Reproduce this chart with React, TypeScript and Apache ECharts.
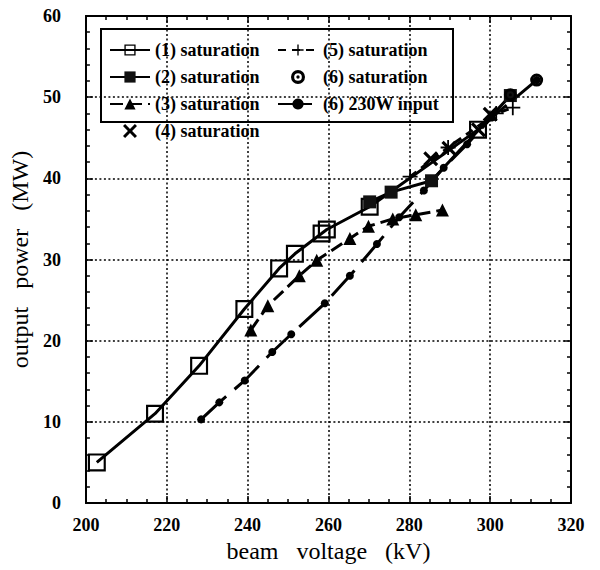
import React, { useEffect, useRef } from "react";
import * as echarts from "echarts";

const xTicks = [200, 220, 240, 260, 280, 300, 320];
const yTicks = [0, 10, 20, 30, 40, 50, 60];

const sat1: number[][] = [
  [202.7, 5.0], [217.1, 11.0], [228.0, 16.9], [239.2, 23.9], [247.8, 28.9],
  [251.7, 30.7], [258.3, 33.2], [259.6, 33.7], [270.2, 36.5], [297.0, 46.0],
];
const sat2: number[][] = [
  [270.2, 37.1], [275.5, 38.3], [285.5, 39.7], [305.0, 50.2],
];
const sat3: number[][] = [
  [240.8, 21.3], [245.0, 24.3], [252.8, 28.0], [257.1, 29.9], [265.3, 32.6],
  [269.9, 34.1], [275.9, 35.0], [281.6, 35.5], [288.2, 36.1],
];
const sat4: number[][] = [
  [285.3, 42.4], [289.8, 43.7], [297.1, 46.0], [300.0, 47.9],
];
const sat5: number[][] = [
  [280.2, 40.2], [289.6, 43.8], [301.5, 48.0], [305.6, 48.7],
];
const sat6: number[][] = [
  [305.0, 50.3], [311.5, 52.1],
];
const input230: number[][] = [
  [228.5, 10.3], [233.0, 12.4], [239.3, 15.1], [246.1, 18.6], [250.8, 20.8],
  [259.1, 24.6], [265.3, 28.0], [272.0, 31.9], [277.5, 35.2], [283.6, 38.5],
  [288.5, 41.3], [294.3, 44.2], [300.4, 47.5], [311.5, 52.1],
];

const names = [
  "(1) saturation",
  "(2) saturation",
  "(3) saturation",
  "(4) saturation",
  "(5) saturation",
  "(6) saturation",
  "(6) 230W input",
];

const xTitle = "beam\u00a0\u00a0 voltage\u00a0\u00a0 (kV)";
const yTitle = "output\u00a0\u00a0 power\u00a0\u00a0 (MW)";

const hollowSquare = "path://M0,0H20V20H0Z M2.4,2.4V17.6H17.6V2.4Z";
const boldX = "path://M0,3L3,0L10,7L17,0L20,3L13,10L20,17L17,20L10,13L3,20L0,17L7,10Z";
const plusSym = "path://M8.8,0H11.2V8.8H20V11.2H11.2V20H8.8V11.2H0V8.8H8.8Z";
const ringDot =
  "path://M0,10A10,10 0 1,1 20,10A10,10 0 1,1 0,10Z M4.5,10A5.5,5.5 0 1,0 15.5,10A5.5,5.5 0 1,0 4.5,10Z M7.6,10A2.4,2.4 0 1,1 12.4,10A2.4,2.4 0 1,1 7.6,10Z";

const serif = "'Liberation Serif', 'DejaVu Serif', serif";

export default function App() {
  const ref = useRef<HTMLDivElement>(null);
  useEffect(() => {
    if (!ref.current) return;
    const chart = echarts.init(ref.current, undefined, { renderer: "svg" });
    const axisCommon = {
      type: "value" as const,
      axisLine: { show: true, onZero: false, lineStyle: { color: "#000", width: 2 } },
      axisTick: { show: true, inside: true, length: 7, lineStyle: { color: "#000", width: 1.5 } },
      minorTick: { show: true, length: 4, lineStyle: { color: "#000", width: 1.5 } },
    };
    const labelStyle = { color: "#000", fontFamily: serif, fontWeight: "bold" as const, fontSize: 18 };
    const nameStyle = { color: "#000", fontFamily: serif, fontSize: 24 };
    const legendText = { color: "#000", fontFamily: serif, fontWeight: "bold" as const, fontSize: 18 };

    chart.setOption({
      animation: false,
      backgroundColor: "#fff",
      grid: { left: 82, right: 29, top: 16, bottom: 67, containLabel: false },
      xAxis: [
        {
          ...axisCommon,
          min: xTicks[0],
          max: xTicks[xTicks.length - 1],
          interval: 20,
          minorTick: { ...axisCommon.minorTick, splitNumber: 4 },
          axisLabel: { ...labelStyle, margin: 13 },
          splitLine: { show: true, lineStyle: { color: "#000", type: [2, 2.5], width: 1.5 } },
          name: xTitle,
          nameLocation: "middle",
          nameGap: 35,
          nameTextStyle: nameStyle,
        },
        {
          ...axisCommon,
          position: "top",
          min: xTicks[0],
          max: xTicks[xTicks.length - 1],
          interval: 20,
          minorTick: { ...axisCommon.minorTick, splitNumber: 4 },
          axisLabel: { show: false },
          splitLine: { show: false },
        },
      ],
      yAxis: [
        {
          ...axisCommon,
          min: yTicks[0],
          max: yTicks[yTicks.length - 1],
          interval: 10,
          minorTick: { ...axisCommon.minorTick, splitNumber: 5 },
          axisLabel: { ...labelStyle, margin: 25 },
          splitLine: { show: true, lineStyle: { color: "#000", type: [2, 2.5], width: 1.5 } },
          name: yTitle,
          nameLocation: "middle",
          nameGap: 33,
          nameTextStyle: nameStyle,
        },
        {
          ...axisCommon,
          position: "right",
          min: yTicks[0],
          max: yTicks[yTicks.length - 1],
          interval: 10,
          minorTick: { ...axisCommon.minorTick, splitNumber: 5 },
          axisLabel: { show: false },
          splitLine: { show: false },
        },
      ],
      legend: [
        {
          data: names.slice(0, 4),
          orient: "vertical",
          left: 104,
          top: 36,
          itemGap: 9,
          itemWidth: 40,
          itemHeight: 14,
          textStyle: legendText,
          selectedMode: false,
        },
        {
          data: names.slice(4),
          orient: "vertical",
          left: 272,
          top: 36,
          itemGap: 9,
          itemWidth: 40,
          itemHeight: 14,
          textStyle: legendText,
          selectedMode: false,
        },
      ],
      graphic: [
        {
          type: "rect",
          shape: { x: 101, y: 29, width: 352, height: 93 },
          style: { fill: "#fff", stroke: "#000", lineWidth: 2 },
          z: 0,
          zlevel: 0,
        },
      ],
      series: [
        {
          name: names[0], type: "line", data: sat1,
          symbol: hollowSquare, symbolSize: 18,
          itemStyle: { color: "#000" },
          lineStyle: { color: "#000", width: 3 },
          z: 3,
        },
        {
          name: names[1], type: "line", data: sat2,
          symbol: "rect", symbolSize: 13,
          itemStyle: { color: "#111" },
          lineStyle: { color: "#000", width: 3 },
          z: 3,
        },
        {
          name: names[2], type: "line", data: sat3,
          symbol: "triangle", symbolSize: 13,
          itemStyle: { color: "#000" },
          lineStyle: { color: "#000", width: 3, type: [13, 6] },
          z: 3,
        },
        {
          name: names[3], type: "scatter", data: sat4,
          symbol: boldX, symbolSize: 15,
          itemStyle: { color: "#000", opacity: 1 },
          z: 4,
        },
        {
          name: names[4], type: "line", data: sat5,
          symbol: plusSym, symbolSize: 15,
          itemStyle: { color: "#000" },
          lineStyle: { color: "#000", width: 3, type: [8, 6] },
          z: 3,
        },
        {
          name: names[5], type: "scatter", data: sat6,
          symbol: ringDot, symbolSize: 13,
          itemStyle: { color: "#000", opacity: 1 },
          z: 6,
        },
        {
          name: names[6], type: "line", data: input230,
          symbol: "circle", symbolSize: 8,
          itemStyle: { color: "#000" },
          lineStyle: { color: "#000", width: 3, type: [34, 11] },
          z: 3,
        },
      ],
    });
    return () => chart.dispose();
  }, []);
  return (
    <div
      ref={ref}
      style={{ position: "fixed", left: 0, top: 0, width: 600, height: 570 }}
    />
  );
}
